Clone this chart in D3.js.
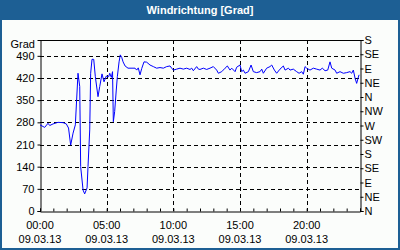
<!DOCTYPE html>
<html>
<head>
<meta charset="utf-8">
<script src="https://cdn.jsdelivr.net/npm/d3@7"></script>
<style>
body { margin:0; background:#fff; }
svg text { font-family:"Liberation Sans", Arial, sans-serif; font-size:11px; fill:#000; }
</style>
</head>
<body>
<svg id="chart" width="400" height="250"></svg>
<script>
// wind direction readings, hour of day / degrees
var hours = [0,0.35,0.6,0.73,0.98,1.35,1.73,1.97,2.14,2.3,2.48,2.65,2.85,2.98,3.05,3.23,3.35,3.53,3.6,3.73,3.8,3.9,4.03,4.15,4.35,4.48,4.65,4.8,4.97,5.15,5.23,5.35,5.44,5.5,5.6,5.72,5.8,5.93,6.02,6.13,6.23,6.38,6.6,6.75,7.13,7.25,7.37,7.5,7.63,7.8,8.0,8.25,8.5,8.75,9.0,9.25,9.5,9.75,9.88,10.0,10.25,10.5,10.75,11.0,11.25,11.38,11.5,11.75,11.88,12.0,12.25,12.5,12.75,13.0,13.25,13.38,13.63,13.88,14.05,14.25,14.38,14.63,14.75,15.0,15.13,15.25,15.38,15.63,15.83,16.0,16.25,16.5,16.63,16.75,17.0,17.25,17.38,17.58,17.75,18.0,18.25,18.38,18.63,18.75,19.0,19.25,19.43,19.63,19.75,19.88,20.0,20.25,20.5,20.75,21.0,21.17,21.38,21.58,21.75,21.88,22.13,22.25,22.5,22.75,23.0,23.25,23.38,23.5,23.63,23.75,23.85,23.93];
var degrees = [272,264,277,270,275,280,279,275,262,208,246,272,435,393,140,66,54,73,140,256,435,479,479,424,361,393,433,408,426,424,435,422,440,282,314,382,424,471,493,485,471,458,451,451,451,445,452,430,450,471,470,461,456,451,453,451,456,458,451,445,448,451,448,451,447,451,443,456,448,447,451,447,451,456,445,435,440,451,458,445,451,440,454,461,440,445,435,440,461,440,437,440,448,435,451,456,461,445,435,448,458,445,451,445,448,440,435,440,432,456,451,445,451,448,445,451,443,445,471,451,445,435,440,435,437,440,435,445,419,403,419,430];

var leftTicks = [0,70,140,210,280,350,420,490];
var dirTicks = [0,45,90,135,180,225,270,315,360,405,450,495,540];
var dirLabels = ["N","NE","E","SE","S","SW","W","NW","N","NE","E","SE","S"];
var hourTicks = d3.range(0,25);
var timeTicks = [0,5,10,15,20];
var timeLabels = ["00:00","05:00","10:00","15:00","20:00"];
var dateLabels = ["09.03.13","09.03.13","09.03.13","09.03.13","09.03.13"];

var svg = d3.select("#chart");
var W = 400, H = 250;
var blue = "#1d5f94";

// frame + title bar
svg.append("rect").attr("x",0).attr("y",0).attr("width",W).attr("height",H).attr("fill",blue);
svg.append("rect").attr("x",2).attr("y",20).attr("width",W-4).attr("height",H-22).attr("fill","#fbfdfb");
svg.append("text").attr("x",200).attr("y",14).attr("text-anchor","middle")
  .style("font-weight","bold").style("fill","#fff").text("Windrichtung [Grad]");

var pLeft = 40, pRight = 360, pTop = 40, pBottom = 211;
var x = d3.scaleLinear().domain([0,24]).range([pLeft,pRight]);
var y = d3.scaleLinear().domain([0,540]).range([pBottom,pTop]);

// grid
var g = svg.append("g").attr("shape-rendering","crispEdges");
g.selectAll(".hg").data(leftTicks.filter(function(d){return d>0;})).enter().append("line")
  .attr("x1",pLeft).attr("x2",pRight).attr("y1",function(d){return Math.round(y(d))+0.5;}).attr("y2",function(d){return Math.round(y(d))+0.5;})
  .attr("stroke","#000").attr("stroke-dasharray","4,3");
g.selectAll(".vg").data(timeTicks.filter(function(d){return d>0;})).enter().append("line")
  .attr("y1",pTop).attr("y2",pBottom).attr("x1",function(d){return Math.round(x(d))+0.5;}).attr("x2",function(d){return Math.round(x(d))+0.5;})
  .attr("stroke","#000").attr("stroke-dasharray","4,3");

// axes
var yAxis = d3.axisLeft(y).tickValues(leftTicks).tickSize(3).tickPadding(3);
var gl = svg.append("g").attr("transform","translate("+(pLeft+0.5)+",0)").call(yAxis);
var rAxis = d3.axisRight(y).tickValues(dirTicks).tickSize(3).tickPadding(1)
  .tickFormat(function(d,i){return dirLabels[i];});
var gr = svg.append("g").attr("transform","translate("+(pRight+0.5)+",0)").call(rAxis);
var xAxis = d3.axisBottom(x).tickValues(hourTicks).tickSize(-3).tickFormat("");
var gb = svg.append("g").attr("transform","translate(0,"+(pBottom+0.5)+")").call(xAxis);
svg.append("line").attr("x1",pLeft).attr("x2",pRight+1).attr("y1",pTop+0.5).attr("y2",pTop+0.5).attr("stroke","#000");
[gl,gr,gb].forEach(function(a){
  a.select(".domain").attr("stroke","#000");
  a.selectAll("text").style("font-size","11px").style("font-family","Liberation Sans, Arial, sans-serif");
});

// bottom labels (two lines)
svg.selectAll(".tl").data(timeTicks).enter().append("text")
  .attr("x",function(d){return x(d);}).attr("y",229).attr("text-anchor","middle")
  .text(function(d,i){return timeLabels[i];});
svg.selectAll(".dl").data(timeTicks).enter().append("text")
  .attr("x",function(d){return x(d);}).attr("y",243).attr("text-anchor","middle")
  .text(function(d,i){return dateLabels[i];});

svg.append("text").attr("x",35).attr("y",48).attr("text-anchor","end").text("Grad");

// data line
var pts = hours.map(function(h,i){return [h,degrees[i]];});
var line = d3.line().x(function(d){return x(d[0]);}).y(function(d){return y(d[1]);});
svg.append("path").datum(pts).attr("d",line).attr("fill","none").attr("stroke","#0000ff").attr("stroke-width",1);
</script>
</body>
</html>
